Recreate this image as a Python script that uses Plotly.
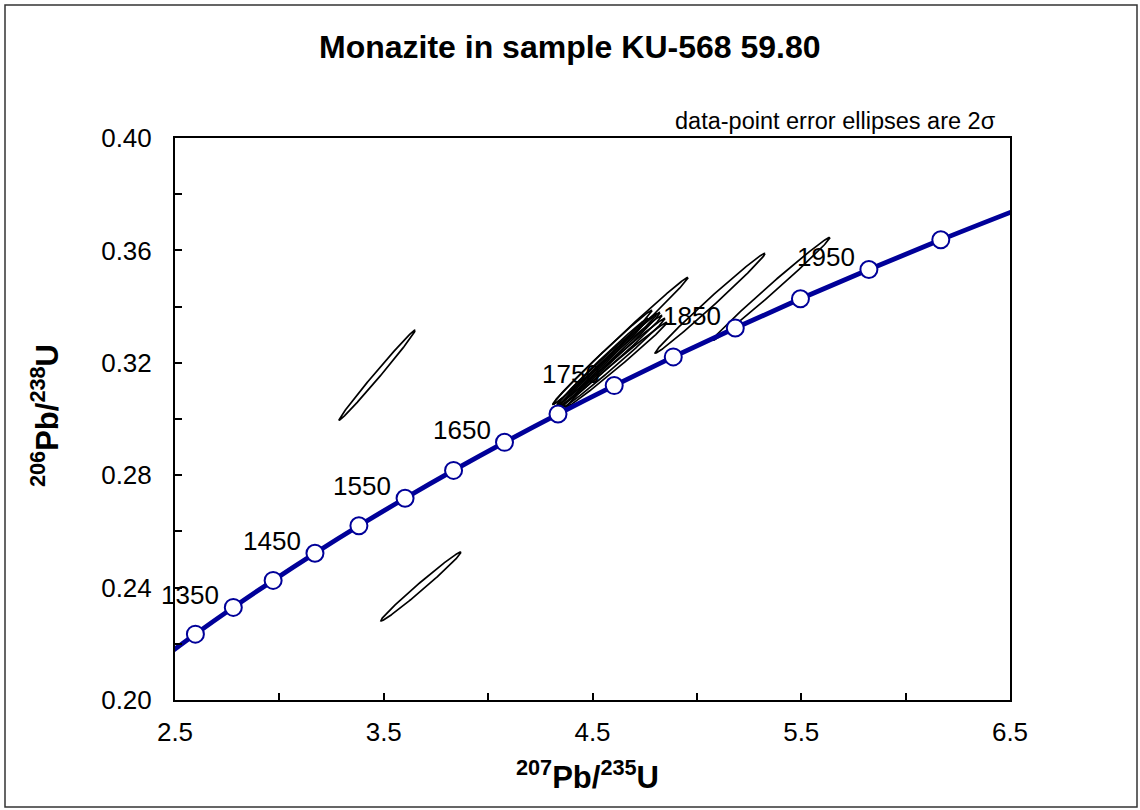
import numpy as np
import plotly.graph_objects as go

# ---- data ----
# decay constants (per year)
LAMBDA_238 = 1.55125e-10
LAMBDA_235 = 9.8485e-10

curve_ages_ma = [1250, 1300, 1350, 1400, 1450, 1500, 1550, 1600, 1650, 1700,
                 1750, 1800, 1850, 1900, 1950, 2000, 2050]
marker_ages_ma = [1300, 1350, 1400, 1450, 1500, 1550, 1600, 1650, 1700,
                  1750, 1800, 1850, 1900, 1950, 2000]
label_ages_ma = [1350, 1450, 1550, 1650, 1750, 1850, 1950]

# error ellipses: centre (207/235, 206/238), half-extents, error correlation
ell_x = [3.468, 3.678, 4.634, 5.063, 5.357, 4.548, 4.569, 4.589, 4.603, 4.615, 4.550, 4.584]
ell_y = [0.3156, 0.2404, 0.3278, 0.3412, 0.3463, 0.3220, 0.3212, 0.3207, 0.3200, 0.3193, 0.3205, 0.3214]
ell_ex = [0.182, 0.192, 0.3234, 0.2635, 0.2802, 0.2371, 0.2395, 0.2443, 0.2443, 0.2419, 0.2156, 0.2395]
ell_ey = [0.0160, 0.01227, 0.02258, 0.01778, 0.01831, 0.01671, 0.01636, 0.01618, 0.01582, 0.01511, 0.01529, 0.01653]
ell_rho = [0.995, 0.991, 0.9963, 0.9942, 0.9946, 0.995, 0.995, 0.995, 0.995, 0.995, 0.995, 0.995]

x_ticks = [2.5, 3.5, 4.5, 5.5, 6.5]
x_ticktext = ["2.5", "3.5", "4.5", "5.5", "6.5"]
y_ticks = [0.20, 0.24, 0.28, 0.32, 0.36, 0.40]
y_ticktext = ["0.20", "0.24", "0.28", "0.32", "0.36", "0.40"]

title_text = "<b>Monazite in sample KU-568 59.80</b>"
note_text = "data-point error ellipses are 2σ"


def concordia(ages_ma):
    t = np.array(ages_ma, dtype=float) * 1e6
    return np.exp(LAMBDA_235 * t) - 1, np.exp(LAMBDA_238 * t) - 1


FONT = "Arial, Liberation Sans, sans-serif"
NAVY = "#000099"

fig = go.Figure()

# ellipses
th = np.linspace(0, 2 * np.pi, 241)
for cx, cy, ex, ey, r in zip(ell_x, ell_y, ell_ex, ell_ey, ell_rho):
    xs = cx + ex * np.cos(th)
    ys = cy + ey * (r * np.cos(th) + np.sqrt(1 - r * r) * np.sin(th))
    fig.add_trace(go.Scatter(x=xs, y=ys, mode="lines",
                             line=dict(color="black", width=1.7),
                             hoverinfo="skip", showlegend=False))

# concordia curve
cx_, cy_ = concordia(curve_ages_ma)
fig.add_trace(go.Scatter(x=cx_, y=cy_, mode="lines", line=dict(color=NAVY, width=4.8, shape="spline"),
                         showlegend=False, hoverinfo="skip"))
mx, my = concordia(marker_ages_ma)
fig.add_trace(go.Scatter(x=mx, y=my, mode="markers",
                         marker=dict(size=17, color="white", line=dict(color=NAVY, width=2)),
                         showlegend=False, cliponaxis=False))

# age labels
lx, ly = concordia(label_ages_ma)
for a, x, y in zip(label_ages_ma, lx, ly):
    fig.add_annotation(x=x, y=y, xref="x", yref="y", text=str(a), showarrow=False,
                       xanchor="right", yanchor="middle", xshift=-12, yshift=12,
                       font=dict(family=FONT, size=26, color="black"))

L, R, T, B = 175, 1010, 138, 700
W, H = 1140, 810


def px(xp):
    return (xp - L) / (R - L)


def py(yp):
    return (B - yp) / (B - T)


fig.add_annotation(x=px(570), y=py(47), xref="paper", yref="paper", text=title_text,
                   showarrow=False, xanchor="center", yanchor="middle",
                   font=dict(family=FONT, size=32, color="black"))
fig.add_annotation(x=px(998), y=py(121), xref="paper", yref="paper", text=note_text,
                   showarrow=False, xanchor="right", yanchor="middle",
                   font=dict(family=FONT, size=23.5, color="black"))
fig.add_annotation(x=px(587), y=py(775), xref="paper", yref="paper",
                   text="<b><sup>207</sup>Pb/<sup>235</sup>U</b>",
                   showarrow=False, xanchor="center", yanchor="middle",
                   font=dict(family=FONT, size=31, color="black"))
fig.add_annotation(x=px(45), y=py(416), xref="paper", yref="paper",
                   text="<b><sup>206</sup>Pb/<sup>238</sup>U</b>", textangle=-90,
                   showarrow=False, xanchor="center", yanchor="middle",
                   font=dict(family=FONT, size=31, color="black"))

# outer border
fig.add_shape(type="rect", xref="paper", yref="paper",
              x0=px(5), x1=px(1137), y0=py(807), y1=py(5),
              line=dict(color="#333333", width=1.5), fillcolor="rgba(0,0,0,0)", layer="below")

fig.update_layout(
    width=W, height=H,
    margin=dict(l=L, r=W - R, t=T, b=H - B, pad=0),
    paper_bgcolor="white", plot_bgcolor="white",
    showlegend=False,
    xaxis=dict(range=[2.5, 6.5], tickvals=x_ticks, ticktext=x_ticktext,
               ticks="inside", ticklen=7, tickwidth=1.5, tickcolor="black",
               minor=dict(tick0=2.5, dtick=0.5, ticks="inside", ticklen=7,
                          tickwidth=1.5, tickcolor="black", showgrid=False),
               showline=True, linecolor="black", linewidth=2, mirror=True,
               showgrid=False, zeroline=False, ticklabelstandoff=8,
               tickfont=dict(family=FONT, size=26, color="black")),
    yaxis=dict(range=[0.20, 0.40], tickvals=y_ticks, ticktext=y_ticktext,
               ticks="inside", ticklen=7, tickwidth=1.5, tickcolor="black",
               minor=dict(tick0=0.20, dtick=0.02, ticks="inside", ticklen=7,
                          tickwidth=1.5, tickcolor="black", showgrid=False),
               showline=True, linecolor="black", linewidth=2, mirror=True,
               showgrid=False, zeroline=False, ticklabelstandoff=16,
               tickfont=dict(family=FONT, size=26, color="black")),
)

fig.write_html("out.html")
